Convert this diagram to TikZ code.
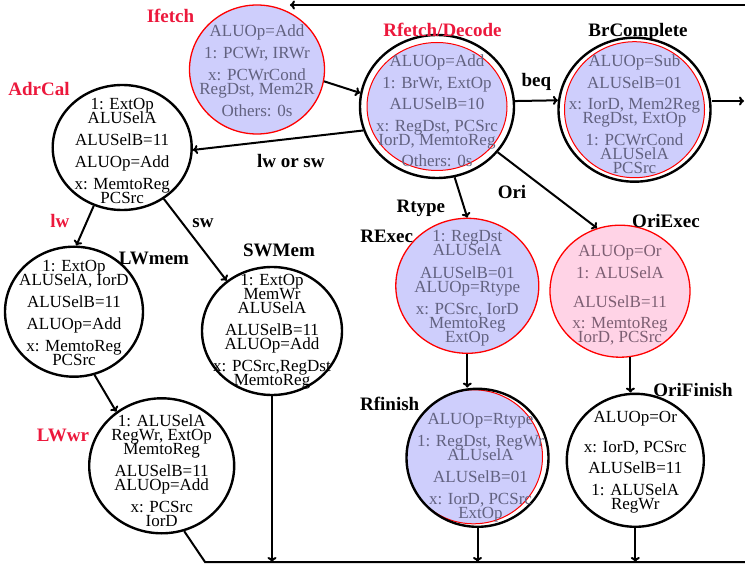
\documentclass[tikz,border=0pt]{standalone}
\usepackage{fontspec}
\setmainfont{Liberation Serif}
\usepackage{tikz}
\usetikzlibrary{shapes.geometric, arrows.meta, positioning, calc}
\definecolor{StBlue}{RGB}{206,206,252}
\definecolor{StPink}{RGB}{255,211,230}
\definecolor{StBlueText}{RGB}{98,98,128}
\definecolor{StPinkText}{RGB}{125,95,115}
\definecolor{StRed}{RGB}{236,24,60}
\lineskiplimit=-100pt

\begin{document}
\begin{tikzpicture}[x=1pt, y=1pt, >={To[length=5pt, width=9pt]}]
  \tikzstyle{st} = [ellipse, draw=black, line width=2.4pt, inner sep=0pt]
  \tikzstyle{bst} = [ellipse, draw=red, line width=1.3pt, fill=StBlue, inner sep=0pt]
  \tikzstyle{pst} = [bst, fill=StPink]
  \tikzstyle{txt} = [align=center, inner sep=0pt, font=\fontsize{17}{14}\selectfont]
  \tikzstyle{btxt} = [txt, text=StBlueText]
  \tikzstyle{ptxt} = [txt, text=StPinkText]
  \tikzstyle{nm} = [anchor=base, font=\fontsize{19}{20}\selectfont\bfseries]
  \tikzstyle{rnm} = [nm, text=StRed]
  \tikzstyle{elbl} = [font=\fontsize{19}{20}\selectfont\bfseries]
  \tikzstyle{arr} = [->, line width=2pt]
  \tikzset{ring/.style n args={4}{path picture={\draw[red, line width=1pt, fill=StBlue] ([shift={(#3,#4)}]path picture bounding box.center) ellipse [x radius=#1pt, y radius=#2pt];}}}

  \useasboundingbox (0,0) rectangle (745,-564);

  % States
  \node (ifetch) [bst, minimum width=135pt, minimum height=129pt] at (257,-69.5) {};
  \node (rfetch) [st, ring={70}{64}{0}{0}, minimum width=154pt, minimum height=143pt] at (437,-106.5) {};
  \node (brcomp) [st, ring={70}{68}{0}{0}, minimum width=152pt, minimum height=144pt] at (634.5,-109.7) {};
  \node (adrcal) [st, minimum width=139pt, minimum height=125pt] at (122.2,-147.5) {};
  \node (lwmem) [st, minimum width=138pt, minimum height=130pt] at (74,-311.7) {};
  \node (swmem) [st, minimum width=140pt, minimum height=128pt] at (272,-331) {};
  \node (lwwr) [st, minimum width=145pt, minimum height=135pt] at (161.7,-465.8) {};
  \node (rexec) [bst, minimum width=143pt, minimum height=135pt] at (467.3,-285.8) {};
  \node (oriexec) [pst, minimum width=140pt, minimum height=132pt] at (620,-291.2) {};
  \node (rfinish) [st, ring={69}{67}{-4}{1}, minimum width=142pt, minimum height=138pt] at (477.5,-457.8) {};
  \node (orifin) [st, minimum width=137pt, minimum height=133pt] at (635.3,-460.3) {};

  % State contents
  \node (ifetch-t) [btxt] at ([yshift=-1.5pt]ifetch.center) {ALUOp=Add\\[8pt]1: PCWr, IRWr\\[8pt]x: PCWrCond\\RegDst, Mem2R\\[8pt]Others: 0s};
  \node (rfetch-t) [btxt] at ([yshift=-4.5pt]rfetch.center) {ALUOp=Add\\[7.5pt]1: BrWr, ExtOp\\[7.5pt]ALUSelB=10\\[7.5pt]x: RegDst, PCSrc\\IorD, MemtoReg\\[7.5pt]Others: 0s};
  \node (brcomp-t) [btxt] at ([yshift=-4.3pt]brcomp.center) {ALUOp=Sub\\[7.5pt]ALUSelB=01\\[7.5pt]x: IorD, Mem2Reg\\RegDst, ExtOp\\[7.5pt]1: PCWrCond\\ALUSelA\\PCSrc};
  \node (adrcal-t) [txt] at ([yshift=-3.9pt]adrcal.center) {1: ExtOp\\ALUSelA\\[8pt]ALUSelB=11\\[8pt]ALUOp=Add\\[8pt]x: MemtoReg\\PCSrc};
  \node (lwmem-t) [txt] at ([yshift=-1.2pt]lwmem.center) {1: ExtOp\\ALUSelA, IorD\\[8pt]ALUSelB=11\\[8pt]ALUOp=Add\\[8pt]x: MemtoReg\\PCSrc};
  \node (swmem-t) [txt] at ([yshift=-1pt]swmem.center) {1: ExtOp\\MemWr\\ALUSelA\\[8pt]ALUSelB=11\\ALUOp=Add\\[8pt]x: PCSrc,RegDst\\MemtoReg};
  \node (lwwr-t) [txt] at ([yshift=-4.6pt]lwwr.center) {1: ALUSelA\\RegWr, ExtOp\\MemtoReg\\[8pt]ALUSelB=11\\ALUOp=Add\\[8pt]x: PCSrc\\IorD};
  \node (rexec-t) [btxt] at ([yshift=-2.8pt]rexec.center) {1: RegDst\\ALUSelA\\[8.5pt]ALUSelB=01\\ALUOp=Rtype\\[8.5pt]x: PCSrc, IorD\\MemtoReg\\ExtOp};
  \node (oriexec-t) [ptxt] at ([yshift=-4.3pt]oriexec.center) {ALUOp=Or\\[8pt]1: ALUSelA\\[14.5pt]ALUSelB=11\\[7.5pt]x: MemtoReg\\IorD, PCSrc};
  \node (rfinish-t) [btxt] at ([xshift=3pt, yshift=-9.9pt]rfinish.center) {ALUOp=Rtype\\[7.5pt]1: RegDst, RegWr\\ALUselA\\[8.5pt]ALUSelB=01\\[8pt]x: IorD, PCSrc\\ExtOp};
  \node (orifin-t) [txt] at ([yshift=-2.2pt]orifin.center) {ALUOp=Or\\[16pt]x: IorD, PCSrc\\[7pt]ALUSelB=11\\[8pt]1: ALUSelA\\RegWr};

  % State names
  \node (ifetch-n) [rnm] at (170.5,-22.7) {Ifetch};
  \node (rfetch-n) [rnm] at (442.5,-36.7) {Rfetch/Decode};
  \node (brcomp-n) [nm] at (638,-36.7) {BrComplete};
  \node (adrcal-n) [rnm] at (39,-96) {AdrCal};
  \node (lwmem-n) [nm] at (154,-265) {LWmem};
  \node (swmem-n) [nm] at (279,-256.7) {SWMem};
  \node (lwwr-n) [rnm] at (63,-441) {LWwr};
  \node (rexec-n) [nm] at (386.7,-242.7) {RExec};
  \node (oriexec-n) [nm] at (666,-227.7) {OriExec};
  \node (rfinish-n) [nm] at (389.7,-410) {Rfinish};
  \node (orifin-n) [nm] at (693,-396) {OriFinish};

  % Loose ends
  \coordinate (topR) at (745,-5);
  \coordinate (brR) at (744,-101);
  \coordinate (botL) at (205,-562);
  \coordinate (botR) at (745,-562);

  % Transitions
  \draw[arr] (topR) -- (topR -| ifetch.60);
  \draw[arr] (ifetch.-10) -- (rfetch.170);
  \draw[arr] (rfetch.4) -- node (beq-l) [elbl, above=6pt] {beq} (brcomp.173);
  \draw[arr] (brcomp.east |- brR) -- (brR);
  \draw[arr] (rfetch.198) -- node (lwsw-l) [elbl, below=11pt, pos=0.425] {lw or sw} (adrcal.-2);
  \draw[arr] (rfetch.-76) -- node (rtype-l) [elbl, left=14.8pt, pos=0.76] {Rtype} (rexec.north);
  \draw[arr] (rfetch.-37) -- node (ori-l) [elbl, left=18.8pt, pos=0.52] {Ori} (oriexec.110);
  \draw[arr] (adrcal.-116) -- node (lw-l) [elbl, text=StRed, left=13.6pt, pos=0.37] {lw} (lwmem.88);
  \draw[arr] (adrcal.-51) -- node (sw-l) [elbl, right=6pt, pos=0.29] {sw} (swmem.132);
  \draw[arr] (lwmem.-72) -- (lwwr.130);
  \draw[arr] (rexec.south) -- (rexec.south |- rfinish.north);
  \draw[arr] (oriexec.-81) -- (oriexec.-81 |- orifin.north);

  % Back to Ifetch
  \draw[line width=2pt] (lwwr.-71) -- (botL) -- (botR);
  \draw[arr] (swmem.south) -- (swmem.south |- botL);
  \draw[arr] (rfinish.south) -- (rfinish.south |- botL);
  \draw[arr] (orifin.south) -- (orifin.south |- botL);
\end{tikzpicture}
\end{document}
